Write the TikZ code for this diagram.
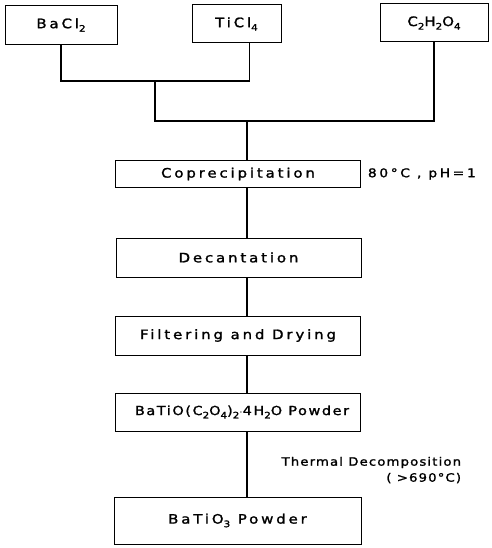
\documentclass[tikz,border=0pt]{standalone}
\usepackage{fontspec}
\setmainfont{DejaVu Sans}[LetterSpace=22,FakeBold=1.5,FakeStretch=1.15]
\usetikzlibrary{positioning}

\newcommand{\lo}[1]{\raisebox{-0.5ex}{\small #1}}

\begin{document}
\begin{tikzpicture}
    [x=1pt,y=-1pt,line width=1.2pt,
     every node/.style={font=\fontsize{13}{15}\selectfont},
     box/.style={draw,rectangle,line width=1pt,minimum width=245pt,minimum height=39pt,inner sep=0pt},
     note/.style={font=\fontsize{11.5}{16}\selectfont\addfontfeature{LetterSpace=10}}]
    \useasboundingbox (0,0) rectangle (491,548);

    % starting materials
    \node[box,minimum width=112pt] (bacl) at (61,25) {BaCl\lo{2}};
    \node[box,minimum width=89pt,minimum height=38pt] (ticl) at (236.5,24) {TiCl\lo{4}};
    \node[box,minimum width=108pt,minimum height=38pt] (oxal) at (434,23) {C\lo{2}H\lo{2}O\lo{4}};

    \coordinate (j1) at (155,81);
    \coordinate (j2) at (247,121);

    % process steps
    \node[box,minimum height=26pt] (coprec) at (238,174) {Coprecipitation};
    \node[box] (decant) at (238.5,257.5) {Decantation};
    \node[box] (filter) at (238,335.5) {Filtering and Drying};
    \node[box,minimum height=38pt,font=\fontsize{12.5}{14}\selectfont\addfontfeature{LetterSpace=13}] (oxpow) at (238,412) {\hspace*{8pt}BaTiO(C\lo{2}O\lo{4})\lo{2}$\cdot$4H\lo{2}O Powder};
    \node[box,minimum height=47pt,minimum width=247pt] (titpow) at (237.5,520.5) {BaTiO\lo{3} Powder};

    % conditions
    \node[right=3pt of coprec,font=\fontsize{12}{14}\selectfont] (cond1) {80°C , pH=1};
    \node[note,anchor=north east,align=right] (cond2) at (465,453) {Thermal Decomposition\\( >690°C)};

    \draw (bacl.south) |- (j1) -- ([xshift=13pt]ticl.south |- j1) -- ([xshift=13pt]ticl.south);
    \draw (j1) |- (j2) -- (oxal.south |- j2) -- (oxal.south);
    \draw (j2) -- (j2 |- coprec.north);
    \foreach \from/\to in {coprec/decant, decant/filter, filter/oxpow, oxpow/titpow}
    \draw (\from.south -| j2) -- (\to.north -| j2);
\end{tikzpicture}
\end{document}
